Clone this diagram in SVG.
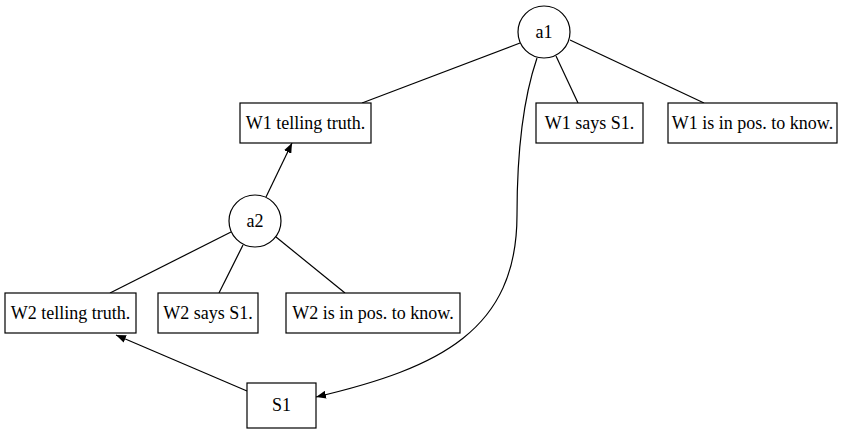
<svg xmlns="http://www.w3.org/2000/svg" width="841" height="430" viewBox="0 0 841 430">
  <style>
    .box { fill: #fff; stroke: #000; stroke-width: 1.2; }
    .arg { fill: #fff; stroke: #000; stroke-width: 1.2; }
    .edge { fill: none; stroke: #000; stroke-width: 1.2; }
    text { font-family: "Liberation Serif", "Times New Roman", serif; font-size: 18px; fill: #000; text-anchor: middle; }
  </style>
  <defs>
    <marker id="arrow" viewBox="0 0 10 8" refX="10" refY="4" markerWidth="10" markerHeight="8" markerUnits="userSpaceOnUse" orient="auto">
      <path d="M0,0 L10,4 L0,8 Z" fill="#000"/>
    </marker>
  </defs>
  <rect width="841" height="430" fill="#fff"/>

  <g id="connectors">
    <line class="edge" x1="520" y1="43" x2="362" y2="103"/>
    <line class="edge" x1="556" y1="56" x2="578" y2="103"/>
    <line class="edge" x1="570" y1="40" x2="704" y2="103"/>
    <line class="edge" x1="266" y1="197" x2="292" y2="143" marker-end="url(#arrow)"/>
    <line class="edge" x1="231" y1="232" x2="110" y2="293"/>
    <line class="edge" x1="243" y1="245" x2="219" y2="293"/>
    <line class="edge" x1="276" y1="237" x2="345" y2="293"/>
    <line class="edge" x1="247" y1="391" x2="116" y2="335" marker-end="url(#arrow)"/>
    <path class="edge" d="M537,58 C521,105 517,160 517,215 C517,330 440,368 316,397" marker-end="url(#arrow)"/>
  </g>

  <g id="a1">
    <circle class="arg" cx="544" cy="32" r="26"/>
    <text x="544" y="38">a1</text>
  </g>
  <g id="a2">
    <circle class="arg" cx="255" cy="221" r="26"/>
    <text x="255" y="227">a2</text>
  </g>
  <g id="w1-truth">
    <rect class="box" x="240" y="103" width="131" height="40"/>
    <text x="305.5" y="129">W1 telling truth.</text>
  </g>
  <g id="w1-says">
    <rect class="box" x="536" y="103" width="107" height="40"/>
    <text x="589.5" y="129">W1 says S1.</text>
  </g>
  <g id="w1-pos">
    <rect class="box" x="668" y="103" width="169" height="40"/>
    <text x="752.5" y="129">W1 is in pos. to know.</text>
  </g>
  <g id="w2-truth">
    <rect class="box" x="5" y="293" width="131" height="40"/>
    <text x="70.5" y="319">W2 telling truth.</text>
  </g>
  <g id="w2-says">
    <rect class="box" x="158" y="293" width="100" height="40"/>
    <text x="208" y="319">W2 says S1.</text>
  </g>
  <g id="w2-pos">
    <rect class="box" x="286" y="293" width="174" height="40"/>
    <text x="373" y="319">W2 is in pos. to know.</text>
  </g>
  <g id="s1">
    <rect class="box" x="247" y="383" width="69" height="45"/>
    <text x="281.5" y="411">S1</text>
  </g>
</svg>
